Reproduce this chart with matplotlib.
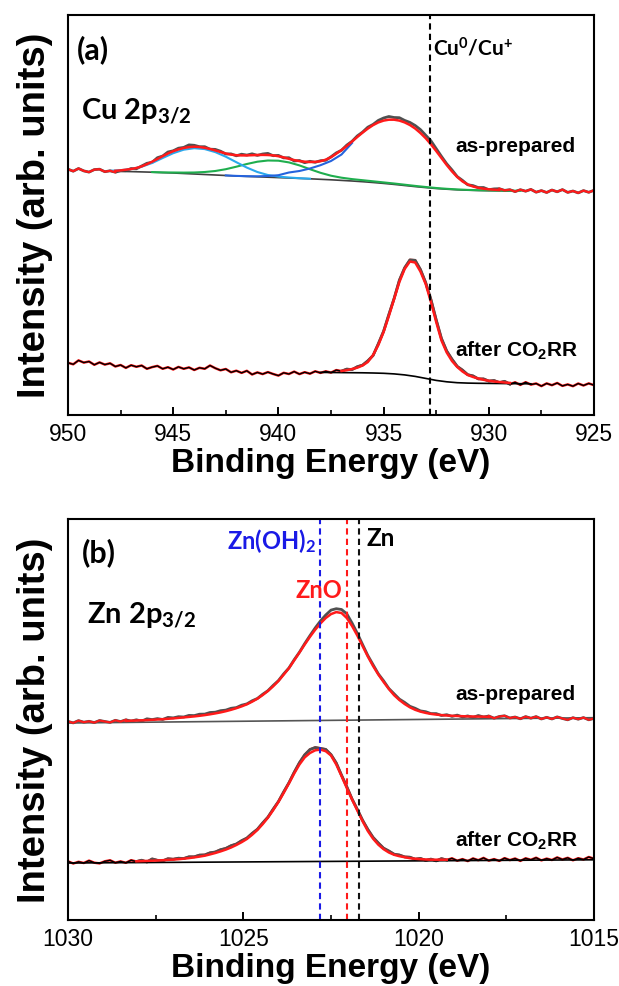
import numpy as np
import matplotlib
matplotlib.use("Agg")
import matplotlib.pyplot as plt
from matplotlib.ticker import MultipleLocator

plt.rcParams['font.family'] = ['Liberation Sans', 'DejaVu Sans']

# ---------------- Cu 2p3/2 (panel a) ----------------
be_cu = np.linspace(950, 925, 101)   # 0.25 eV steps

cu_prep_raw = [
    246.8, 244.8, 247.5, 245.1, 243.9, 246.4, 246.8, 244.3, 245.2, 243.8,
    245.3, 245.3, 247.5, 247.2, 250.0, 252.7, 253.7, 258.3, 260.0, 264.0,
    265.2, 267.8, 268.6, 271.1, 270.7, 269.3, 269.3, 266.8, 266.6, 264.8,
    262.0, 262.1, 260.2, 261.8, 260.9, 262.2, 260.6, 262.0, 262.6, 260.3,
    260.6, 258.1, 258.3, 255.0, 255.5, 253.3, 254.7, 253.7, 255.3, 255.7,
    259.2, 263.1, 265.7, 270.9, 274.7, 280.1, 283.9, 288.8, 291.6, 295.6,
    298.0, 299.5, 298.5, 298.3, 295.6, 293.6, 290.5, 286.4, 280.8, 275.2,
    267.4, 259.6, 252.2, 246.1, 239.4, 235.6, 231.2, 230.4, 228.4, 228.5,
    226.3, 227.1, 227.3, 225.6, 226.3, 224.4, 226.3, 224.8, 226.6, 223.8,
    225.4, 223.5, 226.0, 224.2, 226.4, 223.6, 225.0, 223.1, 225.4, 223.7,
    225.7]
cu_prep_fit = [
    246.0, 246.0, 246.0, 245.5, 245.5, 245.5, 245.0, 245.0, 245.0, 245.2,
    245.6, 246.3, 247.0, 248.0, 249.6, 251.8, 254.3, 257.0, 259.8, 262.5,
    264.8, 266.6, 268.0, 268.9, 269.3, 269.0, 268.2, 267.0, 265.6, 264.0,
    262.5, 261.4, 260.8, 260.6, 260.6, 260.8, 261.0, 261.1, 261.0, 260.6,
    259.8, 258.6, 257.2, 255.9, 254.9, 254.3, 254.0, 254.1, 254.8, 256.3,
    258.8, 262.3, 266.0, 270.0, 274.5, 279.0, 283.4, 287.4, 290.9, 293.6,
    295.4, 296.3, 296.3, 295.4, 293.6, 291.0, 287.5, 283.0, 277.8, 271.7,
    265.0, 258.0, 251.0, 244.6, 239.0, 234.6, 231.5, 229.5, 228.2, 227.3,
    226.7, 226.3, 226.0, 225.8, 225.6, 225.5, 225.4, 225.3, 225.2, 225.1,
    225.0, 225.0, 224.9, 224.9, 224.8, 224.8, 224.7, 224.7, 224.6, 224.6,
    224.5]
# Shirley background, 948 -> 929 eV
cu_prep_bg = [
    244.8, 244.6, 244.4, 244.1, 243.8, 243.4, 243.0, 242.5, 242.0, 241.5,
    241.0, 240.5, 240.0, 239.6, 239.2, 238.8, 238.4, 238.0, 237.6, 237.2,
    236.7, 236.2, 235.6, 235.0, 234.3, 233.5, 232.6, 231.6, 230.5, 229.4,
    228.4, 227.5, 226.8, 226.2, 225.8, 225.5, 225.3, 225.2, 225.1]
# satellite component, 948 -> 938.5 eV
cu_sat1 = [245.2, 245.8, 247.0, 249.3, 253.0, 258.0, 262.8, 266.3, 267.8, 266.9,
           263.9, 259.3, 253.8, 248.4, 244.0, 241.0, 239.4, 238.5, 237.8, 237.3]
# satellite component, 946 -> 928.5 eV
cu_sat2 = [243.9, 243.6, 243.5, 243.4, 243.5, 244.0, 245.0, 246.8, 249.3, 252.0,
           254.3, 255.5, 255.3, 253.6, 250.6, 246.8, 243.2, 240.3, 238.3, 236.9,
           235.8, 234.7, 233.6, 232.5, 231.3, 230.1, 229.0, 228.0, 227.2, 226.6,
           226.1, 225.8, 225.6, 225.4, 225.3, 225.2]
# main Cu2+ component (visible part), 942.5 -> 936.5 eV
cu_main = [240.6, 240.1, 239.8, 239.7, 240.0, 240.8, 243.5, 245.0, 247.5, 250.8,
           255.0, 261.5, 273.0]

cu_after_raw = [
    53.2, 51.7, 55.6, 53.4, 54.5, 51.2, 53.6, 51.4, 52.7, 49.5,
    51.0, 48.1, 50.8, 49.2, 50.5, 47.2, 48.9, 50.1, 47.2, 48.8,
    46.5, 49.1, 47.2, 48.6, 46.0, 48.2, 47.2, 50.5, 47.8, 45.7,
    47.0, 43.7, 45.3, 43.1, 45.2, 41.5, 43.6, 41.9, 43.9, 42.0,
    40.4, 43.2, 42.0, 44.4, 41.9, 43.8, 42.3, 44.7, 43.1, 44.7,
    43.4, 45.9, 44.9, 46.9, 46.4, 49.3, 50.9, 55.2, 60.5, 72.3,
    84.8, 101.5, 117.6, 135.8, 148.2, 156.1, 155.7, 146.5, 133.4, 116.5,
    96.2, 77.5, 65.0, 56.8, 49.6, 45.9, 41.3, 40.1, 37.1, 37.1,
    34.9, 35.5, 33.4, 34.7, 31.8, 33.7, 31.1, 33.8, 31.4, 32.5,
    29.9, 32.6, 30.8, 33.0, 30.1, 31.6, 29.8, 32.5, 30.5, 32.6,
    30.8]
# fit envelope, 937 -> 929 eV
cu_after_fit = [45.0, 45.8, 47.0, 48.3, 50.5, 54.0, 61.0, 71.0, 84.0, 100.0,
                117.0, 134.0, 147.0, 154.5, 153.5, 144.5, 132.0, 114.0, 94.0, 75.5,
                63.5, 55.0, 49.0, 44.5, 41.0, 39.0, 37.5, 36.2, 35.2, 34.5,
                34.0, 33.5, 33.1]
# background, 938 -> 928 eV
cu_after_bg = [43.6, 43.5, 43.4, 43.3, 43.2, 43.0, 42.7, 42.1, 41.1, 39.6,
               37.6, 35.6, 34.2, 33.3, 32.9, 32.7, 32.6, 32.5, 32.4, 32.3, 32.2]

cu_ref = 932.8   # Cu0/Cu+

# ---------------- Zn 2p3/2 (panel b) ----------------
be_zn = np.linspace(1030, 1015, 101)   # 0.15 eV steps

zn_prep_raw = [
    199.6, 198.1, 200.4, 198.8, 199.7, 198.4, 200.5, 199.5, 198.6, 200.7,
    199.4, 201.2, 199.9, 201.2, 199.8, 202.2, 201.4, 202.4, 201.5, 203.6,
    203.1, 204.3, 204.0, 205.6, 205.4, 206.8, 206.9, 208.5, 208.8, 210.3,
    210.9, 212.7, 213.4, 215.8, 217.1, 220.2, 222.5, 226.7, 230.3, 235.6,
    240.4, 247.1, 253.0, 261.3, 268.8, 277.4, 285.4, 293.1, 300.1, 306.0,
    310.9, 312.3, 311.5, 307.2, 298.0, 287.7, 276.5, 265.5, 256.3, 247.1,
    240.2, 232.5, 227.2, 221.9, 218.6, 214.7, 212.7, 210.1, 209.3, 207.4,
    207.4, 205.5, 206.3, 204.6, 205.9, 204.0, 205.1, 203.5, 205.5, 204.0,
    205.0, 202.8, 204.5, 205.2, 203.0, 204.0, 202.2, 204.4, 202.8, 204.4,
    202.0, 203.7, 202.0, 204.1, 202.5, 201.2, 203.3, 201.8, 203.4, 201.2,
    202.6]
zn_prep_fit = [
    199.0, 199.1, 199.2, 199.3, 199.4, 199.5, 199.6, 199.7, 199.8, 199.9,
    200.0, 200.1, 200.3, 200.5, 200.7, 200.9, 201.2, 201.5, 201.8, 202.2,
    202.6, 203.1, 203.6, 204.1, 204.6, 205.2, 205.9, 206.7, 207.6, 208.6,
    209.8, 211.2, 212.8, 214.6, 216.7, 219.3, 222.3, 225.9, 230.0, 234.7,
    240.0, 246.3, 252.8, 260.6, 268.5, 276.5, 284.2, 291.3, 297.6, 303.0,
    306.9, 308.9, 308.0, 303.0, 295.0, 285.5, 275.0, 264.5, 255.0, 246.5,
    239.0, 232.0, 225.8, 221.0, 217.0, 213.7, 211.2, 209.4, 208.1, 207.1,
    206.4, 205.9, 205.5, 205.2, 205.0, 204.8, 204.6, 204.5, 204.4, 204.3,
    204.1, 204.0, 203.9, 203.8, 203.7, 203.6, 203.5, 203.4, 203.3, 203.2,
    203.1, 203.0, 202.9, 202.8, 202.7, 202.6, 202.5, 202.4, 202.3, 202.2,
    202.1]
zn_prep_bg = [198.0, 203.3]   # linear, 1030 -> 1015 eV

zn_after_raw = [
    59.7, 57.5, 59.2, 58.0, 60.4, 58.3, 57.6, 59.7, 60.7, 58.3,
    59.6, 58.2, 60.8, 59.5, 60.8, 59.0, 62.1, 60.7, 60.1, 62.3,
    61.8, 62.8, 62.5, 64.2, 64.2, 65.9, 66.1, 68.2, 69.0, 71.3,
    72.6, 75.3, 77.0, 80.3, 82.9, 87.6, 91.7, 98.0, 103.8, 111.8,
    119.4, 129.1, 138.2, 148.7, 158.3, 166.2, 171.5, 173.5, 172.6, 171.6,
    166.4, 158.0, 145.8, 134.3, 122.0, 111.7, 100.8, 91.6, 83.6, 78.0,
    72.8, 70.0, 66.8, 66.0, 64.1, 63.8, 61.8, 62.6, 60.6, 61.9,
    60.1, 62.4, 61.0, 62.7, 60.3, 61.9, 59.9, 62.6, 60.8, 63.1,
    60.4, 61.9, 60.1, 62.9, 60.9, 62.5, 60.1, 62.7, 61.2, 63.3,
    60.6, 62.4, 61.0, 63.6, 61.5, 63.2, 60.7, 62.8, 61.5, 64.0,
    62.3]
zn_after_fit = [
    58.8, 58.8, 58.8, 58.8, 58.9, 58.9, 59.0, 59.0, 59.1, 59.2,
    59.3, 59.4, 59.5, 59.7, 59.9, 60.1, 60.3, 60.5, 60.8, 61.1,
    61.4, 61.8, 62.3, 62.9, 63.6, 64.4, 65.3, 66.6, 68.0, 69.6,
    71.4, 73.5, 76.0, 78.8, 82.0, 86.2, 91.0, 96.8, 103.3, 110.8,
    119.0, 128.0, 137.6, 147.5, 156.5, 163.6, 168.0, 170.7, 171.4, 169.8,
    165.5, 156.5, 145.0, 133.0, 121.5, 110.5, 99.8, 90.0, 82.3, 76.3,
    71.8, 68.5, 66.2, 64.8, 63.8, 62.8, 62.2, 61.8, 61.5, 61.3,
    61.3, 61.3, 61.3, 61.3, 61.3, 61.4, 61.4, 61.4, 61.4, 61.5,
    61.5, 61.5, 61.5, 61.6, 61.6, 61.6, 61.7, 61.7, 61.7, 61.8,
    61.8, 61.8, 61.9, 61.9, 61.9, 62.0, 62.0, 62.0, 62.1, 62.1,
    62.1]
zn_after_bg = [58.0, 61.2]   # linear, 1030 -> 1015 eV

zn_refs = [1022.8, 1022.05, 1021.7]
zn_ref_colors = ['#1a1ae6', '#ff1a1a', '#111111']

RED = '#ff1a1a'
GRAY = '#505050'
CAL = ['Lato', 'DejaVu Sans']

fig = plt.figure(figsize=(6.19, 9.86), dpi=100)
ax_a = fig.add_axes([68 / 619, 1 - 415 / 986, 526 / 619, 400 / 986])
ax_b = fig.add_axes([68 / 619, 1 - 920 / 986, 526 / 619, 401 / 986])

# ---- panel a ----
ax = ax_a
ax.plot(be_cu, cu_prep_raw, color=GRAY, lw=2.0)
ax.plot(np.linspace(948, 929, len(cu_prep_bg)), cu_prep_bg, color='#404040', lw=1.2)
ax.plot(np.linspace(946, 928.5, len(cu_sat2)), cu_sat2, color='#1fae4e', lw=1.5)
ax.plot(np.linspace(948, 938.5, len(cu_sat1)), cu_sat1, color='#2aa8ec', lw=1.5)
ax.plot(np.linspace(942.5, 936.5, len(cu_main)), cu_main, color='#2563dd', lw=1.5)
ax.plot(be_cu[9:83], cu_prep_fit[9:83], color=RED, lw=1.8)
ax.plot(be_cu[:10], cu_prep_raw[:10], color=RED, lw=1.6)
ax.plot(be_cu[82:], cu_prep_raw[82:], color=RED, lw=1.6)

ax.plot(be_cu, cu_after_raw, color=RED, lw=1.8)
ax.plot(be_cu[:53], cu_after_raw[:53], color='black', lw=1.0)
ax.plot(be_cu[84:], cu_after_raw[84:], color='black', lw=1.0)
ax.plot(be_cu[52:85], cu_after_raw[52:85], color=GRAY, lw=2.0)
ax.plot(np.linspace(938, 928, len(cu_after_bg)), cu_after_bg, color='black', lw=1.2)
ax.plot(np.linspace(937, 929, len(cu_after_fit)), cu_after_fit, color=RED, lw=1.8)

ax.axvline(cu_ref, color='black', ls=(0, (3, 2)), lw=1.5)
ax.set_xlim(950, 925)
ax.set_ylim(1, 401)

ax.text(949.6, 366, '(a)', fontsize=22, fontweight='bold', family=CAL, va='center')
ax.text(949.4, 305, r'Cu 2p$\mathregular{_{3/2}}$', fontsize=21, fontweight='bold',
        family=CAL, va='center')
ax.text(932.65, 368, r'Cu$\mathregular{^{0}}$/Cu$\mathregular{^{{+}}}$', fontsize=15,
        fontweight='bold', family=CAL, va='center')
ax.text(931.6, 269, 'as-prepared', fontsize=15, fontweight='bold', va='center')
ax.text(931.6, 65, r'after CO$\mathregular{_2}$RR', fontsize=15, fontweight='bold', va='center')

# ---- panel b ----
ax = ax_b
ax.plot(be_zn, zn_prep_raw, color=GRAY, lw=2.0)
ax.plot([1030, 1015], zn_prep_bg, color='#555555', lw=1.2)
ax.plot(be_zn[11:81], zn_prep_fit[11:81], color=RED, lw=1.8)
ax.plot(be_zn[:12], zn_prep_raw[:12], color=RED, lw=1.5)
ax.plot(be_zn[80:], zn_prep_raw[80:], color=RED, lw=1.5)

ax.plot(be_zn, zn_after_raw, color=RED, lw=1.8)
ax.plot(be_zn[:14], zn_after_raw[:14], color='black', lw=1.0)
ax.plot(be_zn[72:], zn_after_raw[72:], color='black', lw=1.0)
ax.plot(be_zn[13:73], zn_after_raw[13:73], color=GRAY, lw=2.0)
ax.plot([1030, 1015], zn_after_bg, color='black', lw=1.2)
ax.plot(be_zn[13:73], zn_after_fit[13:73], color=RED, lw=1.8)

for xr, c in zip(zn_refs, zn_ref_colors):
    ax.axvline(xr, color=c, ls=(0, (3, 2)), lw=1.5)
ax.set_xlim(1030, 1015)
ax.set_ylim(1, 402)

ax.text(1029.6, 368, '(b)', fontsize=22, fontweight='bold', family=CAL, va='center')
ax.text(1029.46, 306, r'Zn 2p$\mathregular{_{3/2}}$', fontsize=21, fontweight='bold',
        family=CAL, va='center')
ax.text(1022.93, 380, r'Zn(OH)$\mathregular{_2}$', fontsize=17, fontweight='bold',
        family=CAL, color='#1a1ae6', ha='right', va='center')
ax.text(1021.5, 382, 'Zn', fontsize=17.5, fontweight='bold', family=CAL, va='center')
ax.text(1022.84, 331, 'ZnO', fontsize=17, fontweight='bold', family=CAL,
        color=RED, ha='center', va='center')
ax.text(1018.96, 226, 'as-prepared', fontsize=15, fontweight='bold', va='center')
ax.text(1018.96, 80, r'after CO$\mathregular{_2}$RR', fontsize=15, fontweight='bold', va='center')

# ---- common axis styling ----
for ax, fig_y in ((ax_a, 1 - 215 / 986), (ax_b, 1 - 720 / 986)):
    ax.xaxis.set_major_locator(MultipleLocator(5))
    ax.xaxis.set_minor_locator(MultipleLocator(2.5))
    ax.tick_params(axis='x', which='major', direction='in', length=6, width=1.4,
                   labelsize=16.5, pad=6)
    ax.tick_params(axis='x', which='minor', direction='in', length=3.5, width=1.2)
    ax.set_yticks([])
    for s in ax.spines.values():
        s.set_linewidth(1.5)
    ax.set_xlabel('Binding Energy (eV)', fontsize=24, fontweight='bold')
    ax.xaxis.set_label_coords(0.5, -0.082)
    fig.text(35 / 619, fig_y, 'Intensity (arb. units)', rotation=90, fontsize=27.5,
             fontweight='bold', ha='center', va='center')

fig.savefig('out.png', dpi=100)
